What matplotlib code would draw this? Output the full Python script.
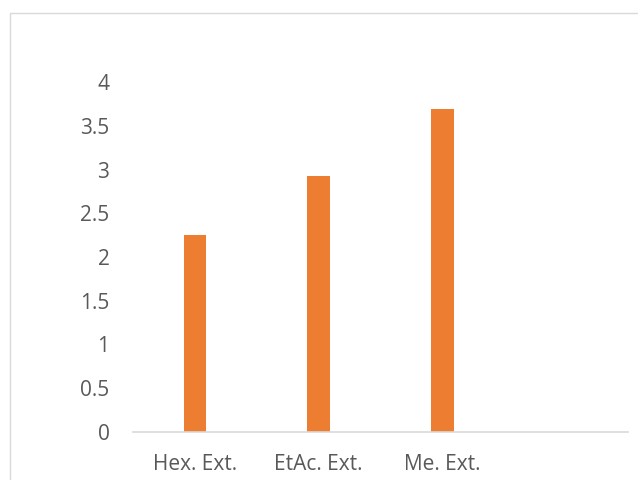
import matplotlib
matplotlib.use("Agg")
import matplotlib.pyplot as plt
from matplotlib.patches import Rectangle

categories = ["Hex. Ext.", "EtAc. Ext.", "Me. Ext.", ""]
values = [2.25, 2.93, 3.69, 0]
yticks = [0, 0.5, 1, 1.5, 2, 2.5, 3, 3.5, 4]
ytick_labels = ["0", "0.5", "1", "1.5", "2", "2.5", "3", "3.5", "4"]

plt.rcParams['font.family'] = ['Open Sans', 'DejaVu Sans']

W, H = 638, 480
fig = plt.figure(figsize=(W/100, H/100), dpi=100)
fig.patches.append(Rectangle((10/W, -0.05), 1.0, 1.05 - 13/H, transform=fig.transFigure,
                             fill=False, edgecolor="#d9d9d9", linewidth=1.0))
ax = fig.add_axes([133/W, 1 - 432/H, (628-133)/W, (432-82)/H])
x = list(range(len(categories)))
ax.bar(x[:3], values[:3], width=0.18, color="#ED7D31")
ax.set_xlim(-0.5, 3.5)
ax.set_ylim(0, 4)
ax.set_yticks(yticks)
ax.set_yticklabels(ytick_labels)
ax.set_xticks(x)
ax.set_xticklabels(categories)
for s in ["top", "right", "left"]:
    ax.spines[s].set_visible(False)
ax.spines["bottom"].set_color("#d9d9d9")
ax.spines["bottom"].set_linewidth(1.2)
ax.tick_params(axis="both", length=0, colors="#595959", labelsize=15)
ax.tick_params(axis="y", pad=17)
ax.tick_params(axis="x", pad=16)
fig.savefig("out.png", dpi=100)
